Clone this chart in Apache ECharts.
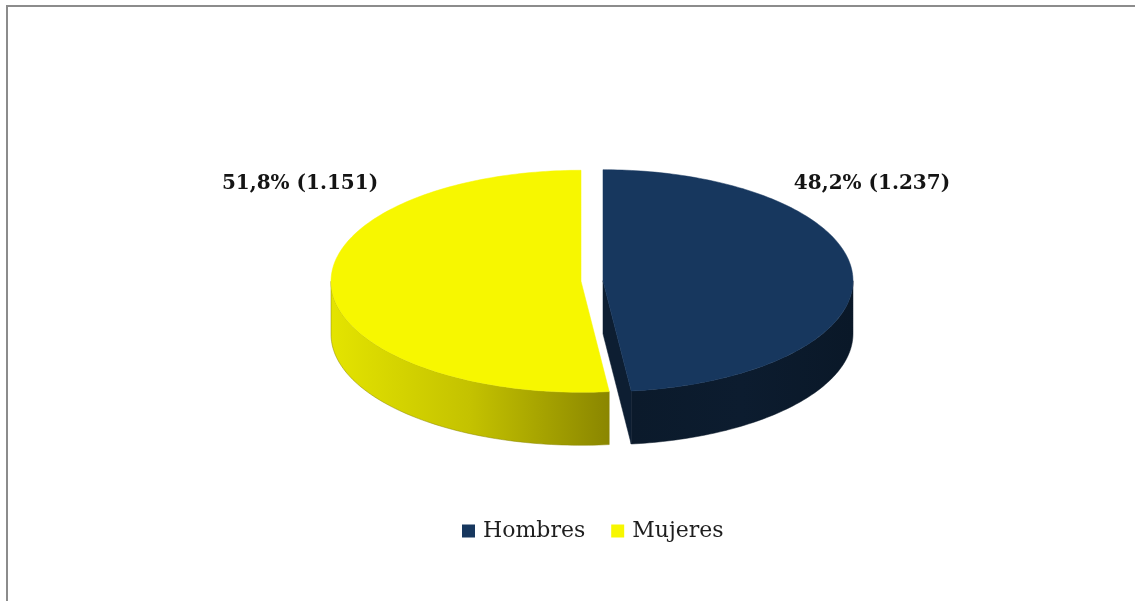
<!DOCTYPE html>
<html>
<head>
<meta charset="utf-8">
<script src="https://cdn.jsdelivr.net/npm/echarts@6/dist/echarts.min.js"></script>
<style>
  html, body { margin: 0; padding: 0; background: #ffffff; }
  #chart { width: 1135px; height: 601px; }
</style>
</head>
<body>
<div id="chart"></div>
<script>
// ---- data ----
const categories = ['Hombres', 'Mujeres'];
const percentages = [48.2, 51.8];
const counts = [1237, 1151];

// ---- styling ----
const topColors = ['#17375E', '#F7F700'];
const wallStops = [
  ['#0b1a2b', '#0c1c2f', '#0a1828'],
  ['#e4e400', '#c4c200', '#8a8600']
];
const cutColors = ['#0d1e32', '#8a8600'];

// tilted pie geometry (ellipse centre, radii, thickness, slice pull-out)
const PIE = { cx: 592, cy: 281, rx: 250, ry: 111, depth: 53, explode: 11 };
// label anchor offsets from each slice apex
const LABEL_OFFSETS = [[269, -97], [-281, -97]];
const LABEL_FONT = 'bold 20px "DejaVu Serif"';

function fmtPct(v) { return v.toFixed(1).replace('.', ',') + '%'; }
function fmtCount(n) { return String(n).replace(/\B(?=(\d{3})+(?!\d))/g, '.'); }

const total = percentages.reduce((a, b) => a + b, 0);

function renderSlice(params, api) {
  const i = params.seriesIndex;
  let before = 0;
  for (let k = 0; k < i; k++) before += percentages[k];
  const v = api.value(0);
  const t0 = before / total * 2 * Math.PI;
  const t1 = (before + v) / total * 2 * Math.PI;
  const tm = (t0 + t1) / 2;
  const ox = PIE.explode * Math.sin(tm);
  const oy = -PIE.explode * Math.cos(tm) * PIE.ry / PIE.rx;
  const P = (t, dy) => [PIE.cx + ox + PIE.rx * Math.sin(t), PIE.cy + oy - PIE.ry * Math.cos(t) + (dy || 0)];
  const apex = [PIE.cx + ox, PIE.cy + oy];
  const apexLow = [apex[0], apex[1] + PIE.depth];
  const children = [];

  // outer wall on the front half of the ellipse
  const a = Math.max(t0, Math.PI / 2), b = Math.min(t1, 3 * Math.PI / 2);
  if (b > a) {
    const n = 80, up = [], down = [];
    for (let s = 0; s <= n; s++) {
      const t = a + (b - a) * s / n;
      up.push(P(t));
      down.push(P(t, PIE.depth));
    }
    const st = wallStops[i];
    children.push({
      type: 'polygon',
      shape: { points: up.concat(down.reverse()) },
      style: {
        fill: new echarts.graphic.LinearGradient(0, 0, 1, 0, [
          { offset: 0, color: st[0] }, { offset: 0.5, color: st[1] }, { offset: 1, color: st[2] }
        ]),
        stroke: st[2], lineWidth: 0.5
      }
    });
  }

  // cut faces that turn towards the viewer
  if (Math.sin(t1) > 0.001) {
    children.push({
      type: 'polygon',
      shape: { points: [apex, P(t1), P(t1, PIE.depth), apexLow] },
      style: { fill: cutColors[i], stroke: cutColors[i], lineWidth: 0.5 }
    });
  }
  if (Math.sin(t0) < -0.001) {
    children.push({
      type: 'polygon',
      shape: { points: [apex, P(t0), P(t0, PIE.depth), apexLow] },
      style: { fill: cutColors[i], stroke: cutColors[i], lineWidth: 0.5 }
    });
  }

  // top face
  const topPts = [apex];
  const m = 160;
  for (let s = 0; s <= m; s++) topPts.push(P(t0 + (t1 - t0) * s / m));
  children.push({
    type: 'polygon',
    shape: { points: topPts },
    style: { fill: topColors[i], stroke: topColors[i], lineWidth: 0.5 }
  });

  // value label
  const off = LABEL_OFFSETS[i];
  children.push({
    type: 'text',
    x: apex[0] + off[0],
    y: apex[1] + off[1],
    style: {
      text: fmtPct(v) + ' (' + fmtCount(counts[i]) + ')',
      font: LABEL_FONT,
      fill: '#141414',
      align: 'center',
      verticalAlign: 'middle'
    }
  });

  return { type: 'group', children: children };
}

const chart = echarts.init(document.getElementById('chart'), null, { renderer: 'canvas' });
chart.setOption({
  animation: false,
  backgroundColor: '#ffffff',
  graphic: [{
    type: 'rect',
    shape: { x: 7, y: 6, width: 1400, height: 900 },
    style: { fill: 'none', stroke: '#8c8c8c', lineWidth: 2 },
    silent: true,
    z: 100
  }],
  legend: {
    data: categories,
    left: 457,
    top: 515,
    icon: 'rect',
    itemWidth: 13,
    itemHeight: 13,
    itemGap: 26,
    textStyle: { fontFamily: 'DejaVu Serif', fontSize: 22, color: '#1e1e1e', padding: [0, 0, 0, 3] }
  },
  series: categories.map((name, i) => ({
    type: 'custom',
    name: name,
    coordinateSystem: 'none',
    itemStyle: { color: topColors[i] },
    renderItem: renderSlice,
    data: [[percentages[i], counts[i]]]
  }))
});
</script>
</body>
</html>
